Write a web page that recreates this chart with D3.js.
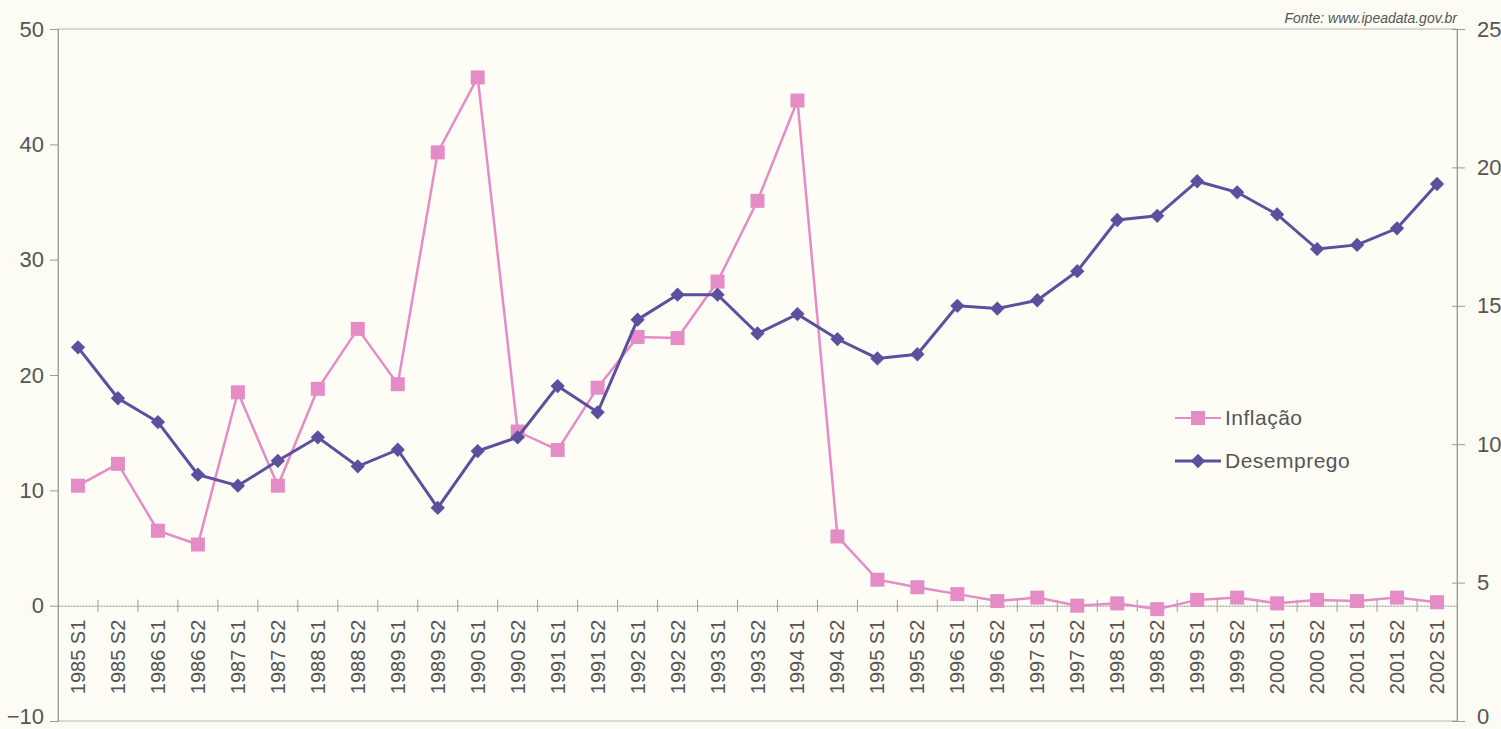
<!DOCTYPE html>
<html>
<head>
<meta charset="utf-8">
<script src="https://cdn.jsdelivr.net/npm/d3@7"></script>
<style>
  body { margin: 0; background: #fcfcf4; }
  svg { display: block; font-family: "Liberation Sans", Arial, sans-serif; }
</style>
</head>
<body>
<svg></svg>
<script>
let periods = ['1985 S1','1985 S2','1986 S1','1986 S2','1987 S1','1987 S2','1988 S1','1988 S2',
  '1989 S1','1989 S2','1990 S1','1990 S2','1991 S1','1991 S2','1992 S1','1992 S2','1993 S1',
  '1993 S2','1994 S1','1994 S2','1995 S1','1995 S2','1996 S1','1996 S2','1997 S1','1997 S2',
  '1998 S1','1998 S2','1999 S1','1999 S2','2000 S1','2000 S2','2001 S1','2001 S2','2002 S1']

// inflacao (eixo esquerdo)
let inflacao = [10.4, 12.3, 6.5, 5.3, 18.5, 10.4, 18.8, 24.0, 19.2, 39.3, 45.8, 15.1, 13.5, 18.9,
  23.3, 23.2, 28.1, 35.1, 43.8, 6.0, 2.25, 1.6, 1.0, 0.4, 0.7, 0.0, 0.2, -0.3, 0.5, 0.7, 0.2,
  0.5, 0.4, 0.7, 0.3]

// desemprego (eixo direito)
let desemprego = [13.5, 11.66, 10.8, 8.9, 8.5, 9.4, 10.25, 9.2, 9.8, 7.7, 9.75, 10.25, 12.1, 11.15,
  14.5, 15.4, 15.4, 14.0, 14.7, 13.8, 13.1, 13.25, 15.0, 14.9, 15.2, 16.25, 18.1, 18.25, 19.5,
  19.1, 18.3, 17.05, 17.2, 17.8, 19.4]

let leftTicks = [-10, 0, 10, 20, 30, 40, 50]
let rightTicks = [0, 5, 10, 15, 20, 25]
let seriesNames = ['Inflação', 'Desemprego']
let fonte = 'Fonte: www.ipeadata.gov.br'

let width = 1501
let height = 729
let plotLeft = 58, plotRight = 1457, plotTop = 29, plotBottom = 721

let pink = '#e58cc6'
let purple = '#5b4f9e'
let axisGray = '#9a9a9a'
let textGray = '#555555'

let svg = d3.select('svg').attr('width', width).attr('height', height)

let xScale = d3.scaleBand().domain(periods).range([plotLeft, plotRight]).padding(0)
let yLeft = d3.scaleLinear().domain([-10, 50]).range([plotBottom, plotTop])
let yRight = d3.scaleLinear().domain([0, 25]).range([plotBottom, plotTop])

// borda do grafico
svg.append('rect')
  .attr('x', plotLeft).attr('y', plotTop)
  .attr('width', plotRight - plotLeft).attr('height', plotBottom - plotTop)
  .attr('fill', '#fdfdf6')
  .attr('stroke', '#b5b5b0').attr('stroke-width', 1)

// eixo esquerdo
let yAxisL = d3.axisLeft(yLeft).tickValues(leftTicks).tickSize(8).tickPadding(6)
let gL = svg.append('g').attr('transform', 'translate(' + plotLeft + ',0)').call(yAxisL)
gL.select('.domain').attr('stroke', axisGray)
gL.selectAll('.tick line').attr('stroke', axisGray)
gL.selectAll('.tick text').attr('fill', textGray).style('font-size', '22px')
  .attr('dy', (d) => d === -10 ? '0.1em' : '0.32em')

// eixo direito
let yAxisR = d3.axisRight(yRight).tickValues(rightTicks).tickSize(8).tickPadding(12)
let gR = svg.append('g').attr('transform', 'translate(' + plotRight + ',0)').call(yAxisR)
gR.select('.domain').attr('stroke', axisGray)
gR.selectAll('.tick line').attr('stroke', axisGray).attr('x1', -5)
gR.selectAll('.tick text').attr('fill', textGray).style('font-size', '22px')
  .attr('dy', (d) => d === 0 ? '0.1em' : '0.32em')

// eixo x na linha do zero
let xAxis = d3.axisBottom(xScale).tickSize(0).tickPadding(0)
let gX = svg.append('g').attr('transform', 'translate(0,' + yLeft(0) + ')').call(xAxis)
gX.select('.domain').attr('stroke', '#8a8a8a').attr('stroke-dasharray', '2,1')
gX.selectAll('.tick text')
  .attr('fill', textGray)
  .style('font-size', '20px')
  .attr('text-anchor', 'end')
  .attr('transform', 'rotate(-90)')
  .attr('x', -14).attr('y', 0).attr('dy', '0.35em')

// marcas de divisao entre categorias
let bounds = periods.slice(1).map((p) => xScale(p))
svg.append('g').selectAll('line')
  .data(bounds)
  .enter()
  .append('line')
  .attr('x1', (d) => d).attr('x2', (d) => d)
  .attr('y1', yLeft(0) - 6).attr('y2', yLeft(0) + 6)
  .attr('stroke', axisGray)

let cx = (i) => xScale(periods[i]) + xScale.bandwidth() / 2
let diamond = d3.symbol().type(d3.symbolDiamond2).size(130)

// linha inflacao
let lineInf = d3.line().x((d, i) => cx(i)).y((d) => yLeft(d))
svg.append('path')
  .datum(inflacao)
  .attr('d', lineInf)
  .attr('fill', 'none')
  .attr('stroke', pink)
  .attr('stroke-width', 2.5)

svg.append('g').selectAll('rect')
  .data(inflacao)
  .enter()
  .append('rect')
  .attr('x', (d, i) => cx(i) - 7)
  .attr('y', (d) => yLeft(d) - 7)
  .attr('width', 14).attr('height', 14)
  .attr('fill', pink)

// linha desemprego
let lineDes = d3.line().x((d, i) => cx(i)).y((d) => yRight(d))
svg.append('path')
  .datum(desemprego)
  .attr('d', lineDes)
  .attr('fill', 'none')
  .attr('stroke', purple)
  .attr('stroke-width', 3)

svg.append('g').selectAll('path')
  .data(desemprego)
  .enter()
  .append('path')
  .attr('d', diamond)
  .attr('transform', (d, i) => 'translate(' + cx(i) + ',' + yRight(d) + ')')
  .attr('fill', purple)

// legenda
let legend = svg.append('g').attr('transform', 'translate(1175,418)')
legend.append('line').attr('x1', 0).attr('x2', 46).attr('y1', 0).attr('y2', 0)
  .attr('stroke', pink).attr('stroke-width', 2)
legend.append('rect').attr('x', 16).attr('y', -7).attr('width', 14).attr('height', 14).attr('fill', pink)
legend.append('text').attr('x', 50).attr('y', 0).attr('dy', '0.35em')
  .text(seriesNames[0]).attr('fill', textGray).style('font-size', '21px').style('letter-spacing', '0.5px')

legend.append('line').attr('x1', 0).attr('x2', 46).attr('y1', 43).attr('y2', 43)
  .attr('stroke', purple).attr('stroke-width', 3)
legend.append('path').attr('d', diamond())
  .attr('transform', 'translate(23,43)').attr('fill', purple)
legend.append('text').attr('x', 50).attr('y', 43).attr('dy', '0.35em')
  .text(seriesNames[1]).attr('fill', textGray).style('font-size', '21px').style('letter-spacing', '0.5px')

// fonte
svg.append('text')
  .attr('x', plotRight).attr('y', 23)
  .attr('text-anchor', 'end')
  .style('font-size', '14px').style('font-style', 'italic')
  .attr('fill', textGray)
  .text(fonte)
</script>
</body>
</html>
